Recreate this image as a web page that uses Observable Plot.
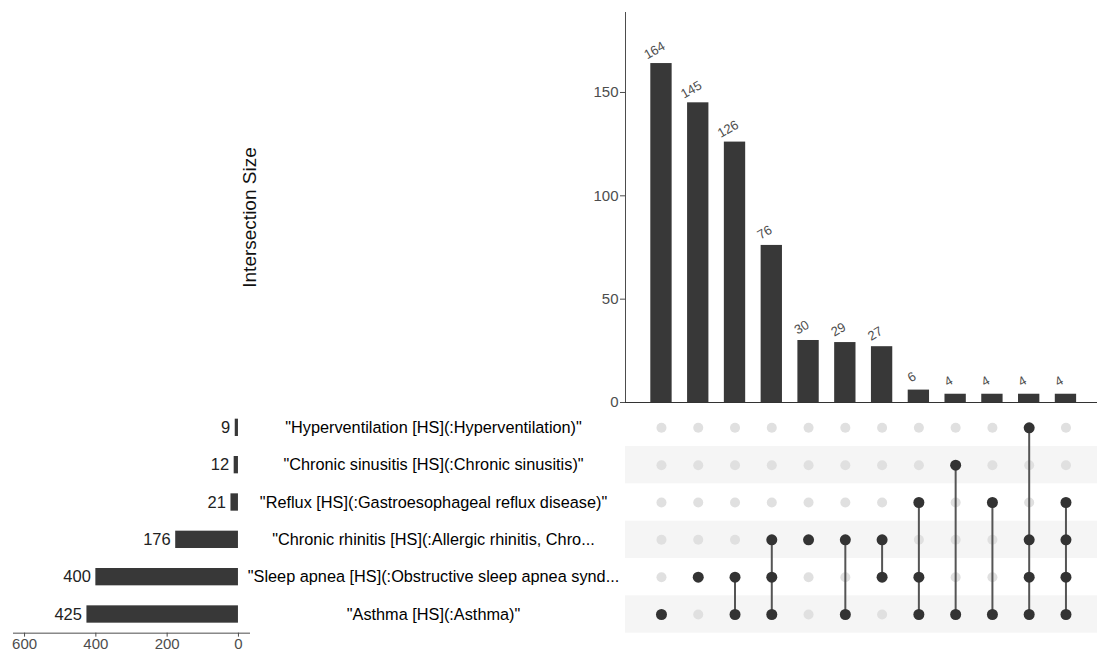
<!DOCTYPE html>
<html>
<head>
<meta charset="utf-8">
<script src="https://cdn.jsdelivr.net/npm/d3@7"></script>
<script src="https://cdn.jsdelivr.net/npm/@observablehq/plot@0.6"></script>
<style>
  body { margin: 0; background: white; font-family: "Liberation Sans", Arial, Helvetica, sans-serif; }
  #chart { position: relative; width: 1097px; height: 652px; overflow: hidden; }
  #chart svg { position: absolute; }
</style>
</head>
<body>
<div id="chart"></div>
<script>
// ---- data ----
const sets = [
  '"Hyperventilation [HS](:Hyperventilation)"',
  '"Chronic sinusitis [HS](:Chronic sinusitis)"',
  '"Reflux [HS](:Gastroesophageal reflux disease)"',
  '"Chronic rhinitis [HS](:Allergic rhinitis, Chro...',
  '"Sleep apnea [HS](:Obstructive sleep apnea synd...',
  '"Asthma [HS](:Asthma)"'
];
const setSizes = [9, 12, 21, 176, 400, 425];
const intersectionSizes = [164, 145, 126, 76, 30, 29, 27, 6, 4, 4, 4, 4];
// indices into `sets` for each intersection column
const intersectionMembers = [
  [5], [4], [4, 5], [3, 4, 5], [3], [3, 5], [3, 4],
  [2, 4, 5], [1, 5], [2, 5], [0, 3, 4, 5], [2, 3, 4, 5]
];
const sizeTicks = [0, 50, 100, 150];
const setTicks = [0, 200, 400, 600];
const yTitle = "Intersection Size";

// ---- derived tables ----
const columns = intersectionSizes.map((size, i) => ({id: i, size}));
const colIds = columns.map(d => d.id);
const setData = sets.map((name, i) => ({name, size: setSizes[i]}));
const cells = [];
columns.forEach((c, i) => sets.forEach((s, j) => cells.push({id: c.id, set: s, active: intersectionMembers[i].includes(j)})));
const links = columns
  .map((c, i) => ({id: c.id, top: sets[d3.min(intersectionMembers[i])], bottom: sets[d3.max(intersectionMembers[i])], n: intersectionMembers[i].length}))
  .filter(d => d.n > 1);
const stripes = sets.filter((s, i) => i % 2 === 1);

const FONT = '"Liberation Sans", Arial, Helvetica, sans-serif';
const xBand = {type: "band", domain: colIds, paddingInner: 0.42, paddingOuter: 0.628, align: 0.548, round: false, axis: null};
const BAR = "#383838";

const chartEl = document.getElementById("chart");

// ---- top: intersection size bars ----
const barsPlot = Plot.plot({
  width: 1097, height: 410,
  marginLeft: 625, marginRight: 0, marginTop: 12, marginBottom: 8,
  style: {background: "transparent", overflow: "visible", fontFamily: FONT, fontSize: "15px", color: "#4d4d4d"},
  x: xBand,
  y: {domain: [0, 188.7], ticks: sizeTicks, tickSize: 5, tickPadding: 2, line: true, label: null},
  marks: [
    Plot.barY(columns, {x: "id", y: "size", fill: BAR}),
    Plot.ruleY([0], {stroke: "#333"}),
    Plot.text(columns, {x: "id", y: "size", text: d => String(d.size), dx: -7, dy: -13, rotate: -30, fontSize: 13, fill: "#4d4d4d"}),
    Plot.text([yTitle], {text: d => d, frameAnchor: "left", textAnchor: "middle", dx: -376, dy: 10, rotate: -90, fontSize: 19, fill: "#111"})
  ]
});
barsPlot.style.left = "0px"; barsPlot.style.top = "0px";
chartEl.appendChild(barsPlot);

// ---- matrix ----
const yBand = {type: "band", domain: sets, padding: 0, round: false, axis: null};
const matrixPlot = Plot.plot({
  width: 1097, height: 252,
  marginLeft: 625, marginRight: 0, marginTop: 8.67, marginBottom: 19.33,
  style: {background: "transparent", overflow: "visible", fontFamily: FONT},
  x: xBand,
  y: yBand,
  marks: [
    Plot.cell(stripes, {y: d => d, fill: "#f5f5f5"}),
    Plot.dot(cells, {x: "id", y: "set", r: 5, fill: "#e0e0e0"}),
    Plot.link(links, {x1: "id", x2: "id", y1: "top", y2: "bottom", stroke: "#555", strokeWidth: 2}),
    Plot.dot(cells.filter(d => d.active), {x: "id", y: "set", r: 5.5, fill: "#333"})
  ]
});
matrixPlot.style.left = "0px"; matrixPlot.style.top = "400px";
chartEl.appendChild(matrixPlot);

// ---- left: set sizes + names ----
const setPlot = Plot.plot({
  width: 625, height: 252,
  marginLeft: 13, marginRight: 376, marginTop: 8.67, marginBottom: 19.33,
  style: {background: "transparent", overflow: "visible", fontFamily: FONT, fontSize: "15px", color: "#4d4d4d"},
  x: {domain: [631, -31], ticks: setTicks, tickSize: 4, tickPadding: 1, line: true, label: null},
  y: yBand,
  marks: [
    Plot.barX(setData, {x: "size", y: "name", fill: BAR, insetTop: 10, insetBottom: 10}),
    Plot.text(setData, {x: "size", y: "name", text: d => String(d.size), dx: -5, textAnchor: "end", fontSize: 16.5, fill: "#222"}),
    Plot.text(setData, {y: "name", text: "name", frameAnchor: "right", dx: 184, textAnchor: "middle", fontSize: 16.3, fill: "#000"})
  ]
});
setPlot.style.left = "0px"; setPlot.style.top = "400px";
chartEl.appendChild(setPlot);
</script>
</body>
</html>
